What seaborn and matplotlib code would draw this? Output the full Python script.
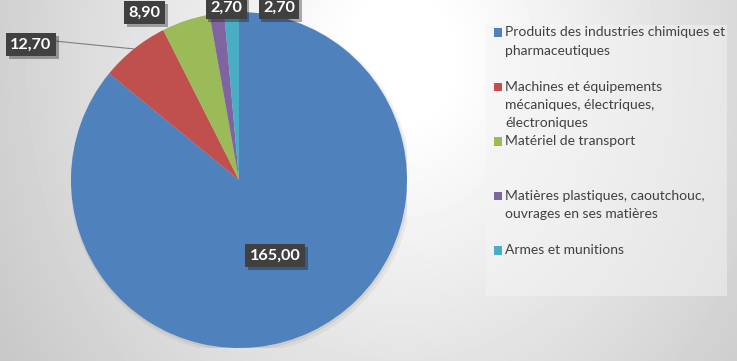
import matplotlib
matplotlib.use("Agg")
import matplotlib.pyplot as plt
import matplotlib.patheffects as pe
from matplotlib.patches import Rectangle, Circle
import seaborn as sns
import numpy as np

# Données
categories = [
    "Produits des industries chimiques et\npharmaceutiques",
    "Machines et équipements\nmécaniques, électriques,\nélectroniques",
    "Matériel de transport",
    "Matières plastiques, caoutchouc,\nouvrages en ses matières",
    "Armes et munitions",
]
values = [165.00, 12.70, 8.90, 2.70, 2.70]
colors = ["#4F81BD", "#C0504D", "#9BBB59", "#8064A2", "#4BACC6"]

# position des étiquettes (coordonnées du camembert, rayon = 1)
label_pos = [(0.214, -0.452), (-1.238, 0.804), (-0.5625, 0.996), (-0.077, 1.027), (0.238, 1.027)]

sns.set_theme(style="white")
plt.rcParams['font.family'] = ['Lato', 'DejaVu Sans']

W, H = 737, 361
fig = plt.figure(figsize=(W / 100, H / 100), dpi=100)
renderer = fig.canvas.get_renderer()


def fit_size(text, width_px, weight='normal', start=10):
    t = fig.text(0, 0, text, fontsize=start, fontweight=weight)
    w = t.get_window_extent(renderer).width
    t.remove()
    return start * width_px / w


# fond dégradé radial
bg = fig.add_axes([0, 0, 1, 1], zorder=-10)
yy, xx = np.mgrid[0:H, 0:W]
d = np.sqrt(((xx - 400) / 340) ** 2 + ((yy - 60) / 400) ** 2)
shade = np.clip(255 - 45 * np.maximum(d - 0.15, 0), 190, 255) / 255
bg.imshow(shade, cmap='gray', vmin=0, vmax=1, aspect='auto', extent=[0, W, H, 0], interpolation='bilinear')
bg.set_axis_off()

# camembert
ax = fig.add_axes([(239 - 168) / W, (H - 180 - 168) / H, 336 / W, 336 / H])
ax.add_patch(Circle((0.012, -0.018), 1.015, color='k', alpha=0.05, lw=0, zorder=0))
ax.add_patch(Circle((0.006, -0.009), 1.005, color='k', alpha=0.07, lw=0, zorder=0))
wedges, _ = ax.pie(values, colors=colors, startangle=90, counterclock=False, radius=1,
                   wedgeprops=dict(linewidth=0))
ax.set_xlim(-1, 1)
ax.set_ylim(-1, 1)
ax.set_axis_off()

lfs = fit_size("165,00", 51, weight='bold')
for i, (w, v) in enumerate(zip(wedges, values)):
    mid = np.deg2rad((w.theta1 + w.theta2) / 2)
    tip = (w.r * np.cos(mid), w.r * np.sin(mid))
    txt = f"{v:.2f}".replace('.', ',')
    arrow = None
    if i == 1:
        arrow = dict(arrowstyle='-', color='#7f7f7f', lw=0.8, relpos=(1, 0.8), shrinkA=0, shrinkB=0)
    t = ax.annotate(txt, xy=tip, xytext=label_pos[i], ha='center', va='center',
                    fontsize=lfs, fontweight='bold', color='white',
                    bbox=dict(boxstyle='square,pad=0.28', fc='#404040', ec='none'),
                    arrowprops=arrow, annotation_clip=False, zorder=5)
    t.get_bbox_patch().set_path_effects([pe.withSimplePatchShadow(offset=(2, -2), alpha=0.35), pe.Normal()])

# légende
fig.add_artist(Rectangle((486 / W, 1 - 296 / H), (727 - 486) / W, (296 - 25) / H,
                         transform=fig.transFigure, fc='#f4f4f4', alpha=0.5, ec='none'))
gfs = fit_size("Produits des industries chimiques et", 221)
for k, (lab, c) in enumerate(zip(categories, colors)):
    y0 = 32.3 + k * 54.5
    fig.add_artist(Rectangle((493.5 / W, 1 - (y0 + 4.2) / H), 8.5 / W, 8.5 / H,
                             transform=fig.transFigure, fc=c, ec='none'))
    for j, line in enumerate(lab.split("\n")):
        fig.text(505 / W, 1 - (y0 + j * 18.3) / H, line, ha='left', va='center',
                 fontsize=gfs, color='#404040')

fig.savefig("out.png", dpi=100)
